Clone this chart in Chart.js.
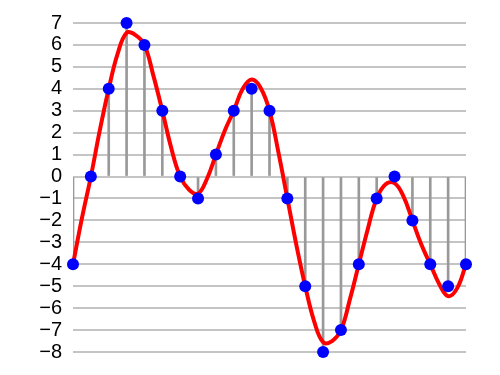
<!DOCTYPE html>
<html>
<head>
<meta charset="utf-8">
<script src="https://cdn.jsdelivr.net/npm/chart.js@4/dist/chart.umd.min.js"></script>
<style>
  html, body { margin: 0; padding: 0; background: #fff; }
  #wrap { width: 500px; height: 375px; }
</style>
</head>
<body>
<div id="wrap"><canvas id="c" width="500" height="375"></canvas></div>
<script>
// Sample indices and quantized sample values (blue dots)
const sampleX = [0,1,2,3,4,5,6,7,8,9,10,11,12,13,14,15,16,17,18,19,20,21,22];
const sampleY = [-4,0,4,7,6,3,0,-1,1,3,4,3,-1,-5,-8,-7,-4,-1,0,-2,-4,-5,-4];

// Continuous signal (red curve), read at half-step positions
const curveX = [0,0.5,1,1.5,2,2.5,3,3.5,4,4.5,5,5.5,6,6.5,7,7.5,8,8.5,9,9.5,10,10.5,11,11.5,12,12.5,13,13.5,14,14.5,15,15.5,16,16.5,17,17.5,18,18.5,19,19.5,20,20.5,21,21.5,22];
const curveY = [-4,-1.9,0,2.1,4,5.6,6.55,6.45,6,4.6,3,1.3,0,-0.6,-0.78,-0.1,1,2.1,3,4,4.42,4.05,3,1.1,-1,-3.1,-5,-6.6,-7.55,-7.5,-7,-5.6,-4,-2.4,-1,-0.35,-0.3,-0.9,-2,-3.1,-4,-4.9,-5.45,-5.1,-4];

// Y tick values and labels
const yTickValues = [7,6,5,4,3,2,1,0,-1,-2,-3,-4,-5,-6,-7,-8];
const yTickLabels = ['7','6','5','4','3','2','1','0','\u22121','\u22122','\u22123','\u22124','\u22125','\u22126','\u22127','\u22128'];

const pts = sampleX.map((x, i) => ({x: x, y: sampleY[i]}));
const curve = curveX.map((x, i) => ({x: x, y: curveY[i]}));

new Chart(document.getElementById('c'), {
  data: {
    datasets: [
      {
        type: 'scatter',
        label: 'samples',
        data: pts,
        backgroundColor: '#0000ff',
        borderColor: '#0000ff',
        pointRadius: 6,
        pointBorderWidth: 0,
        showLine: false,
        clip: false,
        order: 0
      },
      {
        type: 'line',
        label: 'signal',
        data: curve,
        borderColor: '#ff0000',
        borderWidth: 4,
        pointRadius: 0,
        tension: 0.4,
        fill: false,
        clip: false,
        order: 1
      },
      {
        type: 'bar',
        label: 'stems',
        data: pts,
        backgroundColor: '#999999',
        borderWidth: 0,
        barThickness: 2,
        order: 2
      }
    ]
  },
  options: {
    responsive: false,
    animation: false,
    devicePixelRatio: 1,
    layout: { padding: { left: 0, right: 34, top: 22, bottom: 23 } },
    plugins: { legend: { display: false }, tooltip: { enabled: false } },
    scales: {
      x: {
        type: 'linear',
        min: 0,
        max: 22,
        display: false,
        offset: false
      },
      y: {
        type: 'linear',
        min: -8,
        max: 7,
        afterFit: (s) => { s.width = 73; },
        afterBuildTicks: (s) => { s.ticks = yTickValues.map(v => ({value: v})); },
        border: { display: false },
        grid: { color: '#c4c4c4', lineWidth: 2, drawTicks: false },
        ticks: {
          autoSkip: false,
          padding: 11,
          color: '#000000',
          font: { family: '"Liberation Sans", Arial, sans-serif', size: 20 },
          callback: (v) => { const i = yTickValues.indexOf(v); return i >= 0 ? yTickLabels[i] : ''; }
        }
      }
    }
  }
});
</script>
</body>
</html>
